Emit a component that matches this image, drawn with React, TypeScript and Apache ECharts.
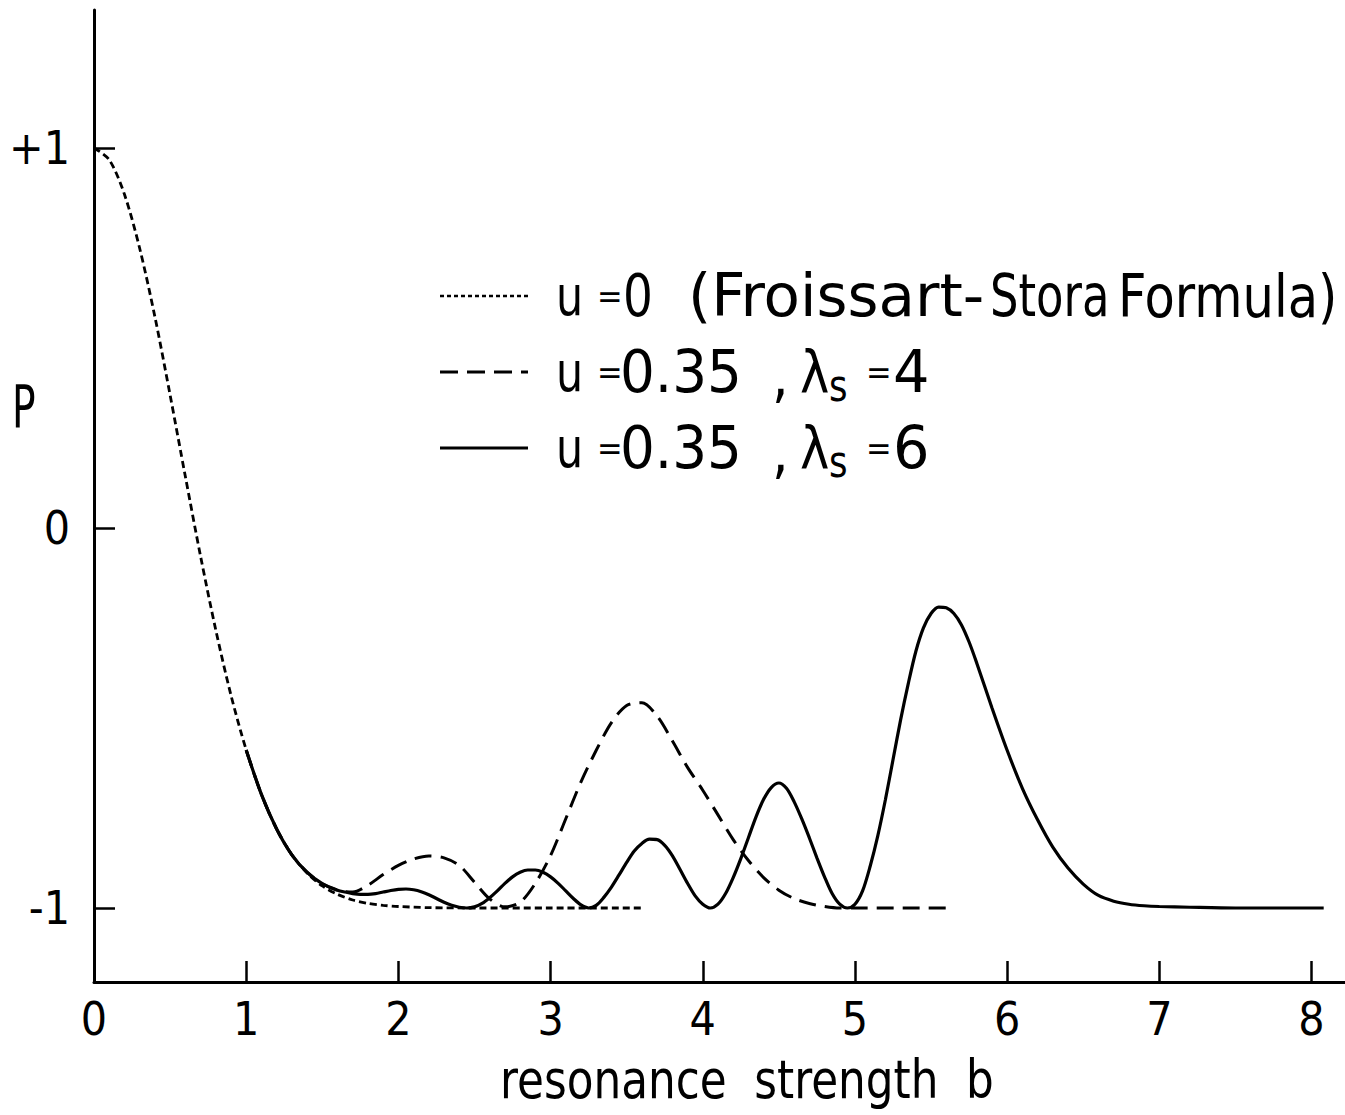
import React, { useEffect, useRef } from "react";
import * as echarts from "echarts";

// ---- data ----
const xTickValues = [1, 2, 3, 4, 5, 6, 7, 8];
const xLabelValues = [0, 1, 2, 3, 4, 5, 6, 7, 8];
const yTickValues = [-1, 0, 1];

// u = 0 (Froissart-Stora formula), dotted
const fsB = [0, 0.1, 0.2, 0.3, 0.4, 0.5, 0.6, 0.7, 0.8, 0.9, 1.0, 1.1, 1.2, 1.3, 1.4, 1.5, 1.6, 1.7, 1.8, 1.9, 2.0, 2.2, 2.5, 3.0, 3.6];
const fsP = [1.0, 0.969, 0.878, 0.736, 0.556, 0.35, 0.136, -0.074, -0.268, -0.44, -0.584, -0.701, -0.792, -0.86, -0.908, -0.942, -0.964, -0.979, -0.988, -0.993, -0.996, -0.999, -1.0, -1.0, -1.0];

// u = 0.35, lambda_s = 4, dashed
const l4B = [1.0, 1.1, 1.2, 1.3, 1.4, 1.5, 1.6, 1.7, 1.8, 1.9, 2.0, 2.1, 2.2, 2.3, 2.4, 2.5, 2.6, 2.7, 2.8, 2.9, 3.0, 3.1, 3.2, 3.3, 3.4, 3.5, 3.6, 3.7, 3.8, 3.9, 4.0, 4.1, 4.2, 4.3, 4.4, 4.5, 4.6, 4.7, 4.8, 4.9, 5.0, 5.2, 5.4, 5.62];
const l4P = [-0.584, -0.701, -0.792, -0.86, -0.906, -0.936, -0.953, -0.958, -0.94, -0.912, -0.888, -0.871, -0.863, -0.868, -0.888, -0.932, -0.976, -0.997, -0.985, -0.935, -0.862, -0.765, -0.668, -0.585, -0.512, -0.467, -0.46, -0.495, -0.56, -0.63, -0.69, -0.755, -0.82, -0.875, -0.92, -0.953, -0.975, -0.988, -0.996, -1.0, -1.0, -1.0, -1.0, -1.0];

// u = 0.35, lambda_s = 6, solid
const l6B = [1.0, 1.1, 1.2, 1.3, 1.4, 1.5, 1.6, 1.65, 1.7, 1.75, 1.8, 1.85, 1.9, 1.95, 2.0, 2.05, 2.1, 2.15, 2.2, 2.25, 2.3, 2.35, 2.4, 2.45, 2.5, 2.55, 2.6, 2.65, 2.7, 2.75, 2.8, 2.85, 2.9, 2.95, 3.0, 3.05, 3.1, 3.15, 3.2, 3.25, 3.3, 3.35, 3.4, 3.45, 3.5, 3.55, 3.6, 3.65, 3.7, 3.75, 3.8, 3.85, 3.9, 3.95, 4.0, 4.05, 4.1, 4.15, 4.2, 4.25, 4.3, 4.35, 4.4, 4.45, 4.5, 4.55, 4.6, 4.65, 4.7, 4.75, 4.8, 4.85, 4.9, 4.95, 5.0, 5.05, 5.1, 5.15, 5.2, 5.25, 5.3, 5.35, 5.4, 5.45, 5.5, 5.55, 5.6, 5.65, 5.7, 5.75, 5.8, 5.9, 6.0, 6.1, 6.2, 6.3, 6.4, 6.5, 6.6, 6.7, 6.8, 6.9, 7.0, 7.2, 7.5, 7.8, 8.08];
const l6P = [-0.584, -0.701, -0.792, -0.86, -0.906, -0.936, -0.953, -0.958, -0.962, -0.964, -0.964, -0.962, -0.958, -0.954, -0.951, -0.95, -0.952, -0.957, -0.965, -0.975, -0.985, -0.993, -0.998, -1.0, -0.997, -0.988, -0.973, -0.955, -0.935, -0.918, -0.906, -0.9, -0.9, -0.906, -0.918, -0.935, -0.955, -0.975, -0.992, -1.0, -0.993, -0.972, -0.945, -0.913, -0.88, -0.85, -0.83, -0.819, -0.82, -0.835, -0.862, -0.898, -0.935, -0.968, -0.99, -1.0, -0.99, -0.962, -0.92, -0.87, -0.815, -0.76, -0.714, -0.683, -0.671, -0.685, -0.72, -0.765, -0.815, -0.868, -0.918, -0.962, -0.99, -1.0, -0.99, -0.955, -0.89, -0.81, -0.715, -0.61, -0.505, -0.41, -0.325, -0.263, -0.225, -0.208, -0.21, -0.225, -0.255, -0.3, -0.355, -0.473, -0.585, -0.685, -0.768, -0.84, -0.895, -0.937, -0.967, -0.982, -0.99, -0.994, -0.996, -0.998, -1.0, -1.0, -1.0];

const seriesNames = [
  "u = 0 (Froissart-Stora Formula)",
  "u = 0.35, λs = 4",
  "u = 0.35, λs = 6",
];
const xAxisTitle = "resonance  strength  b";
const yAxisTitle = "P";

const FONT = "'Liberation Sans Narrow','DejaVu Sans Condensed','Liberation Sans',sans-serif";

function zip(a: number[], b: number[]) {
  return a.map((v, i) => [v, b[i]]);
}

export default function App() {
  const ref = useRef<HTMLDivElement>(null);
  useEffect(() => {
    if (!ref.current) return;
    const chart = echarts.init(ref.current, undefined, { renderer: "svg" });

    const txt = (text: string, x: number, y: number, size: number, sx = 1, extra: any = {}) => ({
      type: "text",
      x,
      y,
      scaleX: sx,
      style: {
        text,
        fontSize: size,
        fontFamily: FONT,
        fill: "#000",
        textVerticalAlign: "middle",
        ...extra,
      },
    });

    const rows = [296, 372, 448];
    const legendTokens: any[] = [];
    // row 1
    legendTokens.push(txt("u", 556, rows[0], 56, 0.85));
    legendTokens.push(txt("=", 597, rows[0], 34));
    legendTokens.push(txt("0", 623, rows[0], 58, 0.9));
    legendTokens.push(txt("(Froissart-", 688, rows[0], 58, 1.14));
    legendTokens.push(txt("Stora", 990, rows[0], 58, 0.86));
    legendTokens.push(txt("Formula)", 1118, rows[0], 58, 0.95));
    // rows 2 & 3
    [1, 2].forEach((r) => {
      legendTokens.push(txt("u", 556, rows[r], 56, 0.85));
      legendTokens.push(txt("=", 597, rows[r], 34));
      legendTokens.push(txt("0.35", 620, rows[r], 58, 1.05));
      legendTokens.push(txt(",", 772, rows[r] + 4, 58));
      legendTokens.push(txt("λ", 800, rows[r], 58, 0.95));
      legendTokens.push(txt("s", 829, rows[r] + 14, 44, 0.9));
      legendTokens.push(txt("=", 866, rows[r], 34));
      legendTokens.push(txt(r === 1 ? "4" : "6", 893, rows[r], 58, 1.1));
    });

    const option: any = {
      animation: false,
      backgroundColor: "#fff",
      grid: { left: 94, right: 0, top: 10, bottom: 133, containLabel: false },
      xAxis: {
        type: "value",
        min: 0,
        max: 8.22,
        axisLine: { show: true, onZero: false, lineStyle: { color: "#000", width: 3 } },
        axisTick: {
          show: true,
          inside: true,
          length: 21,
          customValues: xTickValues,
          lineStyle: { color: "#000", width: 2.5 },
        },
        axisLabel: {
          show: true,
          customValues: xLabelValues,
          fontSize: 46,
          fontFamily: FONT,
          color: "#000",
          margin: 14,
        },
        splitLine: { show: false },
      },
      yAxis: {
        type: "value",
        min: -1.1947,
        max: 1.363,
        axisLine: { show: true, onZero: false, lineStyle: { color: "#000", width: 3 } },
        axisTick: {
          show: true,
          inside: true,
          length: 21,
          customValues: yTickValues,
          lineStyle: { color: "#000", width: 2.5 },
        },
        axisLabel: {
          show: true,
          customValues: yTickValues,
          fontSize: 46,
          fontFamily: FONT,
          color: "#000",
          margin: 24,
          formatter: (v: number) => (v > 0 ? "+1" : v < 0 ? "-1" : "0"),
        },
        splitLine: { show: false },
      },
      series: [
        {
          name: seriesNames[0],
          type: "line",
          data: zip(fsB, fsP),
          showSymbol: false,
          smooth: 0.3,
          lineStyle: { color: "#000", width: 2.8, type: [7, 4] },
          z: 3,
        },
        {
          name: seriesNames[1],
          type: "line",
          data: zip(l4B, l4P),
          showSymbol: false,
          smooth: 0.3,
          lineStyle: { color: "#000", width: 3, type: [17, 9] },
          z: 4,
        },
        {
          name: seriesNames[2],
          type: "line",
          data: zip(l6B, l6P),
          showSymbol: false,
          smooth: 0.3,
          lineStyle: { color: "#000", width: 3.2, type: "solid" },
          z: 5,
        },
      ],
      graphic: [
        txt(yAxisTitle, 12, 407, 58, 0.75),
        txt(xAxisTitle, 747, 1079, 54, 0.9, { textAlign: "center" }),
        {
          type: "line",
          shape: { x1: 440, y1: rows[0], x2: 528, y2: rows[0] },
          style: { stroke: "#000", lineWidth: 2.5, lineDash: [4, 3] },
        },
        {
          type: "line",
          shape: { x1: 440, y1: rows[1], x2: 528, y2: rows[1] },
          style: { stroke: "#000", lineWidth: 3, lineDash: [18, 9] },
        },
        {
          type: "line",
          shape: { x1: 440, y1: rows[2], x2: 528, y2: rows[2] },
          style: { stroke: "#000", lineWidth: 3 },
        },
        ...legendTokens,
      ],
    };
    chart.setOption(option);
    return () => chart.dispose();
  }, []);

  return (
    <div
      ref={ref}
      style={{ position: "fixed", left: 0, top: 0, width: 1345, height: 1115, background: "#fff" }}
    />
  );
}
